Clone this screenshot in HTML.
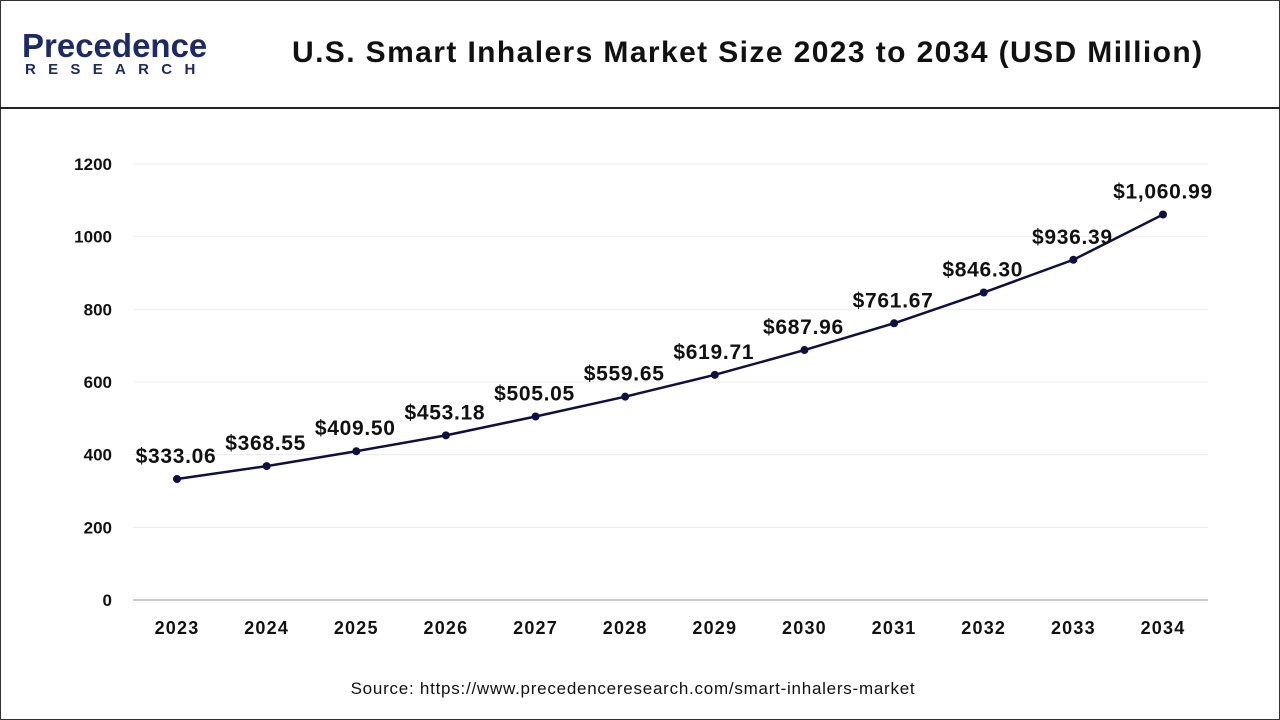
<!DOCTYPE html>
<html><head><meta charset="utf-8"><style>
body{margin:0;width:1280px;height:720px;background:#fff;font-family:"Liberation Sans",sans-serif;overflow:hidden}
#frame{position:absolute;left:0;top:0;width:1278px;height:718px;border:1px solid #333}
#hdr{position:absolute;left:0;top:0;width:1280px;height:107px;border-bottom:2px solid #222}
</style></head><body>
<div id="frame"></div>
<div id="hdr">
 <div style="position:absolute;left:22px;top:30px;">
  <div style="font-size:33px;font-weight:bold;color:#1c2a6b;line-height:31px">Precedence</div>
  <div style="font-size:15px;font-weight:bold;color:#1c2a6b;letter-spacing:12.3px;line-height:18px;margin-left:3px">RESEARCH</div>
 </div>
 <div style="position:absolute;left:292px;top:36px;font-size:30px;font-weight:bold;color:#111;letter-spacing:1.4px;white-space:nowrap">U.S. Smart Inhalers Market Size 2023 to 2034 (USD Million)</div>
</div>
<svg id="c" width="1280" height="720" style="position:absolute;left:0;top:0"></svg>
<div style="position:absolute;left:0;width:1266px;top:679px;text-align:center;font-size:17px;letter-spacing:0.75px;color:#111">Source: https://www.precedenceresearch.com/smart-inhalers-market</div>
<script>
const years=["2023","2024","2025","2026","2027","2028","2029","2030","2031","2032","2033","2034"];
const values=[333.06,368.55,409.50,453.18,505.05,559.65,619.71,687.96,761.67,846.30,936.39,1060.99];
const labels=["$333.06","$368.55","$409.50","$453.18","$505.05","$559.65","$619.71","$687.96","$761.67","$846.30","$936.39","$1,060.99"];
const yTicks=[0,200,400,600,800,1000,1200];
const NS="http://www.w3.org/2000/svg",svg=document.getElementById('c');
const y=v=>600-v*(436/1200), x=i=>177+i*(986/11);
function mk(t,a,txt){const e=document.createElementNS(NS,t);for(const k in a)e.setAttribute(k,a[k]);if(txt!=null)e.textContent=txt;svg.appendChild(e);return e;}
yTicks.forEach(v=>{
 const g=mk('line',{x1:133,x2:1208,y1:y(v),y2:y(v),stroke:v?'#ececec':'#999','stroke-width':1});
 
 
 const t=mk('text',{x:112,y:y(v)+6,'text-anchor':'end','font-size':17,'font-weight':'bold',fill:'#111'},String(v));
 
 
});
years.forEach((yr,i)=>{
 const t=mk('text',{x:x(i),y:634,'text-anchor':'middle','font-size':18,'font-weight':'bold','letter-spacing':1.2,fill:'#111'},yr);
 
 
});
const p=mk('polyline',{points:values.map((v,i)=>x(i)+','+y(v)).join(' '),fill:'none',stroke:'#0f0f45','stroke-width':2.5});


values.forEach((v,i)=>{
 const c=mk('circle',{cx:x(i),cy:y(v),r:4,fill:'#0f0f45'});
 
 
 const t=mk('text',{x:x(i)+(i==11?0:-1),y:y(v)-16,'text-anchor':'middle','font-size':21,'font-weight':'bold','letter-spacing':0.7,fill:'#111'},labels[i]);
 
 
});
</script>
</body></html>
